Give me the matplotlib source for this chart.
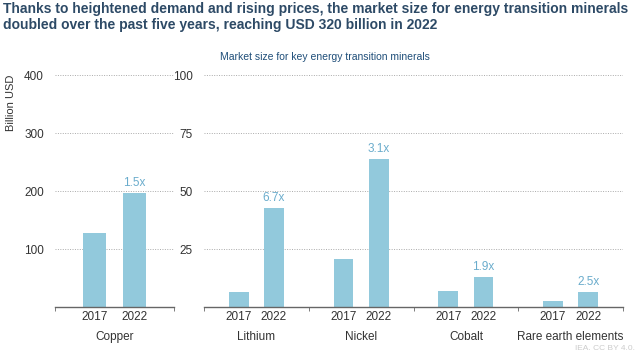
import matplotlib.pyplot as plt
import numpy as np
from matplotlib.transforms import blended_transform_factory

plt.rcParams['font.family'] = ['Liberation Sans', 'DejaVu Sans']

# data (billion USD)
years = ["2017", "2022"]
copper = [128, 196]
copper_mult = "1.5x"

minerals = ["Lithium", "Nickel", "Cobalt", "Rare earth elements"]
val_2017 = [6.4, 20.6, 6.8, 2.6]
val_2022 = [42.7, 63.8, 12.8, 6.5]
multipliers = ["6.7x", "3.1x", "1.9x", "2.5x"]

bar_col = "#92c9dc"
lab_col = "#6aaccc"
txt_col = "#333333"
title_col = "#2d4a66"

fig = plt.figure(figsize=(6.38, 3.53), dpi=100)

ax1 = fig.add_axes([55 / 638, 1 - 307 / 353, 119 / 638, 232 / 353])
ax2 = fig.add_axes([204 / 638, 1 - 307 / 353, 419 / 638, 232 / 353])

off = 0.168
w = 0.19


def style(ax, ymax, yticks, ngroups, names):
    ax.set_ylim(0, ymax)
    ax.set_xlim(0, ngroups)
    for s in ["top", "right", "left"]:
        ax.spines[s].set_visible(False)
    ax.spines["bottom"].set_color("#666666")
    ax.spines["bottom"].set_linewidth(1.0)
    ax.set_yticks(yticks)
    ax.tick_params(axis="y", length=0, labelsize=8.5, labelcolor=txt_col, pad=8)
    ax.grid(axis="y", linestyle=(0, (1, 1.5)), color="#aaaaaa", linewidth=0.7)
    ax.set_axisbelow(True)
    centers = np.arange(ngroups) + 0.5
    pos = np.ravel([[c - off, c + off] for c in centers])
    ax.set_xticks(pos)
    ax.set_xticklabels(years * ngroups)
    ax.tick_params(axis="x", which="major", length=0, labelsize=8.5, labelcolor=txt_col, pad=3)
    ax.set_xticks(np.arange(ngroups + 1), minor=True)
    ax.tick_params(axis="x", which="minor", length=3, color="#666666", direction="out")
    tr = blended_transform_factory(ax.transData, ax.transAxes)
    for c, n in zip(centers, names):
        ax.text(c, -0.105, n, transform=tr, ha="center", va="top", fontsize=8.5, color=txt_col)
    return centers


c1 = style(ax1, 400, [100, 200, 300, 400], 1, ["Copper"])
ax1.bar([c1[0] - off, c1[0] + off], copper, width=w, color=bar_col)
ax1.text(c1[0] + off, copper[1] + 400 * 0.018, copper_mult, ha="center", va="bottom", fontsize=8.5, color=lab_col)
ax1.set_ylabel("Billion USD", fontsize=8, color=txt_col, loc="top", labelpad=6)

c2 = style(ax2, 100, [25, 50, 75, 100], 4, minerals)
ax2.bar(c2 - off, val_2017, width=w, color=bar_col)
ax2.bar(c2 + off, val_2022, width=w, color=bar_col)
for c, v, m in zip(c2, val_2022, multipliers):
    ax2.text(c + off, v + 100 * 0.018, m, ha="center", va="bottom", fontsize=8.5, color=lab_col)

fig.text(0.004, 0.995, "Thanks to heightened demand and rising prices, the market size for energy transition minerals\n"
         "doubled over the past five years, reaching USD 320 billion in 2022",
         ha="left", va="top", fontsize=10, fontweight="bold", color=title_col, linespacing=1.2)
fig.text(325 / 638, 1 - 57 / 353, "Market size for key energy transition minerals",
         ha="center", va="center", fontsize=7.5, color="#1f4e79")
fig.text(0.995, 0.002, "IEA. CC BY 4.0.", ha="right", va="bottom", fontsize=6, color="#cccccc")

fig.savefig("out.png", dpi=100)
